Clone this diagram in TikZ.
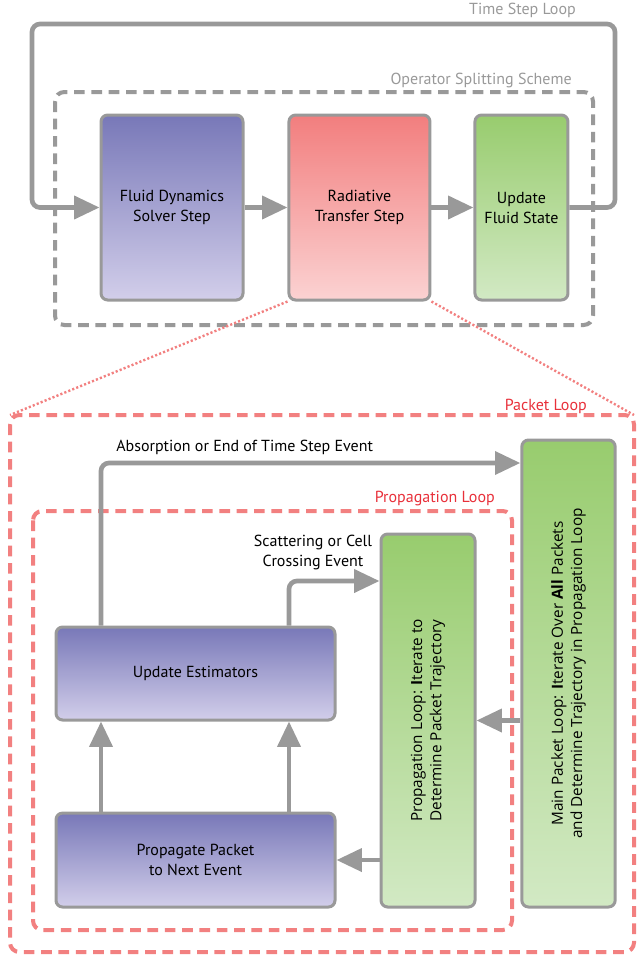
\documentclass[tikz,border=0pt]{standalone}
\usepackage{fontspec}
\setmainfont{PT Sans}
\newfontfamily\rotfont{Open Sans}
\usetikzlibrary{positioning}
\usetikzlibrary{arrows.meta}
\definecolor{linegray}{HTML}{999999}
\definecolor{loopred}{HTML}{F28080}
\definecolor{labelred}{HTML}{E8303A}
\definecolor{bluetop}{HTML}{7878B8}
\definecolor{bluebot}{HTML}{D2CEEA}
\definecolor{redtop}{HTML}{F27E7E}
\definecolor{redbot}{HTML}{FBD2D2}
\definecolor{greentop}{HTML}{98CC6E}
\definecolor{greenbot}{HTML}{D2E9C4}
\tikzset{box/.style={draw=linegray,line width=2.25pt,rounded corners=5pt,align=center,inner sep=0pt,font=\fontsize{12}{15}\selectfont},
bluebox/.style={box,top color=bluetop,bottom color=bluebot},
redbox/.style={box,top color=redtop,bottom color=redbot},
greenbox/.style={box,top color=greentop,bottom color=greenbot},
flow/.style={draw=linegray,line width=3.5pt,rounded corners=6pt,-{Triangle[length=19pt,width=17pt]}},
grayloop/.style={draw=linegray,line width=3pt,dash pattern=on 8pt off 5pt,rounded corners=7pt},
redloop/.style={draw=loopred,line width=3pt,dash pattern=on 8pt off 5pt,rounded corners=7pt},
zoomline/.style={draw=loopred,line width=1.8pt,dash pattern=on 1.6pt off 1.6pt},
looplabel/.style={anchor=east,inner sep=0pt,font=\fontsize{12}{14}\selectfont},
rottext/.style={rotate=90,align=center,inner sep=0pt,font=\rotfont\fontsize{11.5}{14.5}\selectfont}}

\begin{document}
\begin{tikzpicture}[x=0.75pt,y=-0.75pt]
\useasboundingbox (0,0) rectangle (636,957);

% operator splitting scheme
\node (fluid) at (172,207.5) [bluebox, minimum width=106.5pt, minimum height=138.75pt] {Fluid Dynamics\\Solver Step};
\node (radiative) [right of=fluid, node distance=140.6pt, redbox, minimum width=105.75pt, minimum height=138.75pt] {Radiative\\Transfer Step};
\node (update) [right of=radiative, node distance=121.5pt, greenbox, minimum width=69.75pt, minimum height=138.75pt] {Update\\Fluid State};

\draw[grayloop] (55,92) rectangle (593,325);
\node[looplabel, text=linegray] (oslabel) at (572,80) {Operator Splitting Scheme};

\coordinate (tsr) at (615,24);
\coordinate (tsl) at (32,24);
\draw[flow] (update.east) -| (tsr) -- (tsl) |- (fluid.west);
\node[looplabel, text=linegray] (tslabel) at (576,10) {Time Step Loop};

\draw[flow] (fluid.east) -- (radiative.west);
\draw[flow] (radiative.east) -- (update.west);

% packet loop
\coordinate (pltl) at (10,415);
\coordinate (plbr) at (634,952);
\draw[zoomline] (radiative.south west) -- (pltl);
\draw[zoomline] (radiative.south east) -- (pltl -| plbr);
\draw[redloop] (pltl) rectangle (plbr);
\node[looplabel, text=labelred] (pllabel) at (587,406) {Packet Loop};

\draw[redloop] (33,511) rectangle (512,930);
\node[looplabel, text=labelred] (prlabel) at (495,499) {Propagation Loop};

\node (estim) at (195.5,673.5) [bluebox, minimum width=209.25pt, minimum height=69.75pt] {Update Estimators};
\node (propagate) [below of=estim, node distance=139.9pt, bluebox, minimum width=209.25pt, minimum height=70.5pt] {Propagate Packet\\to Next Event};
\node (propbox) at (428,720.5) [greenbox, minimum width=70.5pt, minimum height=279.75pt] {};
\node (proptext) at (propbox.center) [rottext] {Propagation Loop: \textbf{I}terate to\\Determine Packet Trajectory};
\node (mainbox) at (568.5,673.5) [greenbox, minimum width=70pt, minimum height=350.25pt] {};
\node (maintext) at (mainbox.center) [rottext] {Main Packet Loop: \textbf{I}terate Over \textbf{All} Packets\\and Determine Trajectory in Propagation Loop};

\coordinate (absup) at (101,463);
\coordinate (scat) at (289,581);
\draw[flow] (absup |- estim.north) |- (mainbox.west |- absup);
\node[anchor=west, inner sep=0pt, font=\fontsize{12}{14}\selectfont] (abslabel) at (116,447) {Absorption or End of Time Step Event};
\draw[flow] (scat |- estim.north) |- (propbox.west |- scat);
\node[align=center, inner sep=0pt, font=\fontsize{12}{15}\selectfont] (scatlabel) at (313,552) {Scattering or Cell\\Crossing Event};

\draw[flow] (absup |- propagate.north) -- (absup |- estim.south);
\draw[flow] (scat |- propagate.north) -- (scat |- estim.south);
\draw[flow] (propbox.west |- propagate.east) -- (propagate.east);
\draw[flow] (mainbox.west |- propbox.east) -- (propbox.east);
\end{tikzpicture}
\end{document}
